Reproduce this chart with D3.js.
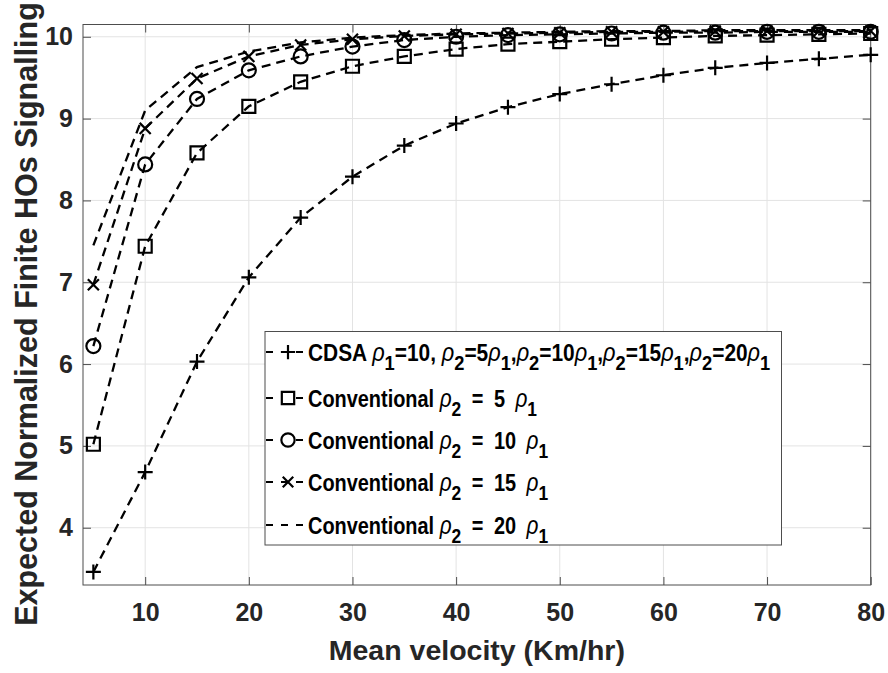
<!DOCTYPE html>
<html><head><meta charset="utf-8">
<script src="https://cdn.jsdelivr.net/npm/d3@7"></script>
<style>
body{margin:0;background:#fff;}
text{font-family:"Liberation Sans",Arial,Helvetica,sans-serif;font-weight:bold;}
</style></head>
<body><svg id="c" width="888" height="673"></svg>
<script>
// ---- data ----
const velocity = [5,10,15,20,25,30,35,40,45,50,55,60,65,70,75,80];
const cdsa   = [3.46,4.68,6.03,7.06,7.79,8.29,8.67,8.94,9.14,9.30,9.42,9.53,9.62,9.68,9.73,9.78];
const conv5  = [5.02,7.44,8.58,9.15,9.45,9.64,9.76,9.85,9.91,9.94,9.97,9.99,10.01,10.02,10.03,10.04];
const conv10 = [6.22,8.44,9.24,9.59,9.76,9.88,9.96,10.00,10.02,10.03,10.04,10.05,10.05,10.06,10.06,10.06];
const conv15 = [6.97,8.88,9.49,9.76,9.90,9.97,10.01,10.03,10.04,10.05,10.06,10.06,10.07,10.07,10.07,10.07];
const conv20 = [7.45,9.10,9.63,9.82,9.93,9.99,10.02,10.04,10.05,10.06,10.07,10.07,10.08,10.08,10.08,10.08];
const xTicks = [10,20,30,40,50,60,70,80];
const yTicks = [4,5,6,7,8,9,10];
const xLabel = "Mean velocity (Km/hr)";
const yLabel = "Expected Normalized Finite HOs Signalling";
const seriesNames = ["cdsa","conv5","conv10","conv15","conv20"];
const seriesMarkers = ["plus","square","circle","cross","none"];
// legend label segments: n = normal, r = rho (italic), s = subscript
const legendLabels = [
  [["n","CDSA "],["r","ρ"],["s","1"],["n","=10, "],["r","ρ"],["s","2"],["n","=5"],["r","ρ"],["s","1"],["n",","],["r","ρ"],["s","2"],["n","=10"],["r","ρ"],["s","1"],["n",","],["r","ρ"],["s","2"],["n","=15"],["r","ρ"],["s","1"],["n",","],["r","ρ"],["s","2"],["n","=20"],["r","ρ"],["s","1"]],
  [["n","Conventional "],["r","ρ"],["s","2"],["n"," = 5 "],["r","ρ"],["s","1"]],
  [["n","Conventional "],["r","ρ"],["s","2"],["n"," = 10 "],["r","ρ"],["s","1"]],
  [["n","Conventional "],["r","ρ"],["s","2"],["n"," = 15 "],["r","ρ"],["s","1"]],
  [["n","Conventional "],["r","ρ"],["s","2"],["n"," = 20 "],["r","ρ"],["s","1"]]
];
const seriesValues = [cdsa, conv5, conv10, conv15, conv20];

// ---- layout ----
const L = 83, R = 870.7, T = 24.5, B = 585;
const svg = d3.select("#c");
const x = d3.scaleLinear().domain([4,80]).range([L,R]);
const y = d3.scaleLinear().domain([3.3,10.15]).range([B,T]);
const txt = "#262626", axc = "#4d4d4d";

// grid
const grid = svg.append("g");
grid.selectAll("line.gx").data(xTicks).join("line")
  .attr("x1",d=>x(d)).attr("x2",d=>x(d)).attr("y1",T).attr("y2",B)
  .attr("stroke","#e3e3e3").attr("stroke-width",1);
grid.selectAll("line.gy").data(yTicks).join("line")
  .attr("y1",d=>y(d)).attr("y2",d=>y(d)).attr("x1",L).attr("x2",R)
  .attr("stroke","#e3e3e3").attr("stroke-width",1);

// axes
function styleAxis(g){
  g.select(".domain").remove();
  g.selectAll(".tick line").attr("stroke",axc).attr("stroke-width",1);
  g.selectAll("text").attr("fill",txt).style("font-size","25px").style("font-weight","bold")
   .style("font-family",'"Liberation Sans",Arial,sans-serif');
}
svg.append("g").attr("transform",`translate(0,${B})`)
  .call(d3.axisBottom(x).tickValues(xTicks).tickSize(-8).tickPadding(18).tickFormat(d3.format("d")))
  .call(styleAxis);
svg.append("g").attr("transform",`translate(0,${T})`)
  .call(d3.axisTop(x).tickValues(xTicks).tickSize(-8).tickFormat(""))
  .call(styleAxis);
svg.append("g").attr("transform",`translate(${L},0)`)
  .call(d3.axisLeft(y).tickValues(yTicks).tickSize(-8).tickPadding(10).tickFormat(d3.format("d")))
  .call(styleAxis);
svg.append("g").attr("transform",`translate(${R},0)`)
  .call(d3.axisRight(y).tickValues(yTicks).tickSize(-8).tickFormat(""))
  .call(styleAxis);
svg.append("rect").attr("x",L).attr("y",T).attr("width",R-L).attr("height",B-T)
  .attr("fill","none").attr("stroke",axc).attr("stroke-width",1);

// markers
function markerPath(type, s){
  const h = s/2;
  if(type==="plus") return `M${-h},0H${h}M0,${-h}V${h}`;
  if(type==="square") return `M${-h},${-h}H${h}V${h}H${-h}Z`;
  if(type==="circle") return `M${h},0A${h},${h} 0 1,1 ${-h},0A${h},${h} 0 1,1 ${h},0Z`;
  if(type==="cross"){ const k=h*0.85; return `M${-k},${-k}L${k},${k}M${-k},${k}L${k},${-k}`; }
  return "";
}
const markerSize = {plus:15, square:13, circle:14, cross:13, none:0};

// lines
const line = d3.line().x((d,i)=>x(velocity[i])).y(d=>y(d));
const plot = svg.append("g");
seriesValues.forEach((vals,si)=>{
  plot.append("path").attr("d",line(vals)).attr("fill","none")
    .attr("stroke","#000").attr("stroke-width",2.3).attr("stroke-dasharray","9,6");
  const m = seriesMarkers[si];
  if(m!=="none"){
    plot.selectAll(null).data(vals).join("path")
      .attr("transform",(d,i)=>`translate(${x(velocity[i])},${y(d)})`)
      .attr("d",markerPath(m, markerSize[m]))
      .attr("fill","none").attr("stroke","#000").attr("stroke-width",2.2);
  }
});

// legend
const lg = svg.append("g");
lg.append("rect").attr("x",265).attr("y",331.5).attr("width",516.5).attr("height",213.5)
  .attr("fill","#fff").attr("stroke",axc).attr("stroke-width",1);
const rowY = [352,398,440,482,525];
const rowScale = [0.87,0.83,0.83,0.83,0.83];
const rowWordSpacing = [0,6,6,6,6];
legendLabels.forEach((segs,i)=>{
  const cy = rowY[i];
  lg.append("line").attr("x1",266).attr("x2",306).attr("y1",cy).attr("y2",cy)
    .attr("stroke","#000").attr("stroke-width",2.2).attr("stroke-dasharray","7,8");
  const m = seriesMarkers[i];
  if(m!=="none"){
    lg.append("path").attr("transform",`translate(288,${cy})`)
      .attr("d",markerPath(m, markerSize[m]*0.95)).attr("fill","#fff")
      .attr("stroke","#000").attr("stroke-width",2.2);
  }
  const g = lg.append("g").attr("transform",`translate(308,${cy+8.6}) scale(${rowScale[i]},1)`);
  const t = g.append("text").attr("fill","#000").style("font-size","24px").attr("xml:space","preserve");
  let low = false;
  segs.forEach(([k,s],j)=>{
    const ts = t.append("tspan").text(s);
    if(k==="n" && j>0) ts.style("word-spacing",rowWordSpacing[i]+"px");
    if(k==="s"){ ts.style("font-size","21px").attr("dy",9); low=true; }
    else {
      if(low){ ts.attr("dy",-9); low=false; }
      if(k==="r") ts.style("font-style","italic").style("font-weight","normal").style("font-size","25px");
    }
  });
});

// axis labels
svg.append("text").attr("x",(L+R)/2).attr("y",660).attr("text-anchor","middle")
  .attr("fill",txt).style("font-size","28.5px").text(xLabel);
svg.append("text").attr("transform",`translate(37,314) rotate(-90)`).attr("text-anchor","middle")
  .attr("fill",txt).style("font-size","30.5px").text(yLabel);
</script></body></html>
